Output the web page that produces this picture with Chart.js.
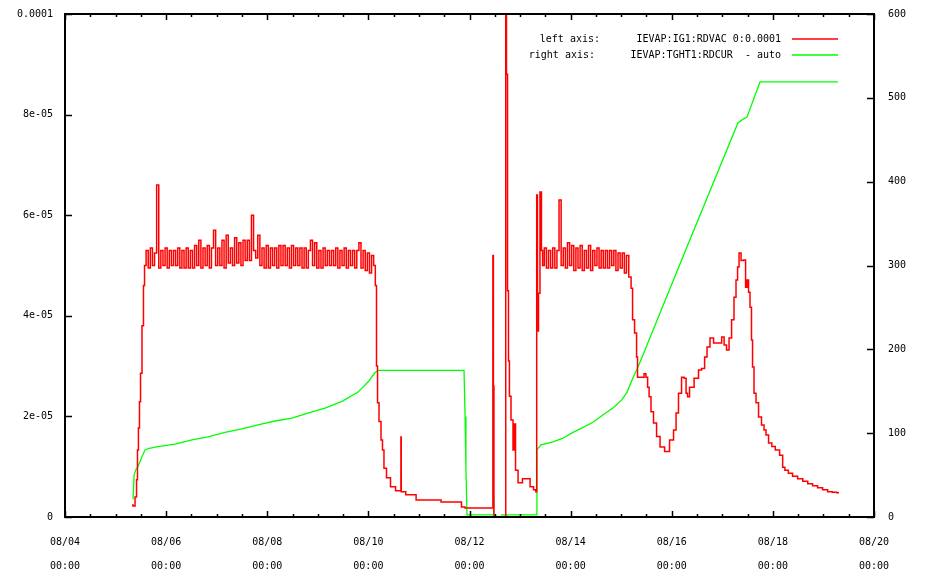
<!DOCTYPE html>
<html>
<head>
<meta charset="utf-8">
<script src="https://cdn.jsdelivr.net/npm/chart.js@4/dist/chart.umd.min.js"></script>
<style>
  html, body { margin: 0; padding: 0; background: #fff; }
  canvas { display: block; }
</style>
</head>
<body>
<canvas id="chart" width="927" height="587"></canvas>
<script>
// x = hours since 08/04 00:00
const dateLabels = ['08/04', '08/06', '08/08', '08/10', '08/12', '08/14', '08/16', '08/18', '08/20'];
const timeLabel = '00:00';
const leftTickLabels = ['0', '2e-05', '4e-05', '6e-05', '8e-05', '0.0001'];
const legendAxes = ['left axis:', 'right axis:'];
const seriesNames = ['IEVAP:IG1:RDVAC 0:0.0001', 'IEVAP:TGHT1:RDCUR  - auto'];

// IG1 vacuum, in units of 1e-05
const vacTimes = [
  31.8, 32.8, 33.7, 34.2, 34.6, 35.1, 35.6, 36.1, 37.0, 37.5, 38.0,
  39, 40, 41, 42, 43, 44, 45, 46, 47, 48,
  49, 50, 51, 52, 53, 54, 55, 56, 57, 58,
  59, 60, 61, 62, 63, 64, 65, 66, 67, 68,
  69, 70, 71, 72, 73, 74, 75, 76, 77, 78,
  79, 80, 81, 82, 83, 84, 85, 86, 87, 88,
  89, 90, 91, 92, 93, 94, 95, 96, 97, 98,
  99, 100, 101, 102, 103, 104, 105, 106, 107, 108,
  109, 110, 111, 112, 113, 114, 115, 116, 117, 118,
  119, 120, 121, 122, 123, 124, 125, 126, 127, 128,
  129, 130, 131, 132, 133, 134, 135, 136, 137, 138,
  139, 140, 141, 142, 143, 144, 145, 146, 147,
  147.6, 148.1, 148.6, 149.5, 150.5, 150.9, 151.9, 153.3, 155.7, 158.1,
  159.4, 159.5, 159.7, 163.8, 169.5, 187.5, 188.9, 190.8, 203.0, 203.2,
  203.5, 203.7, 209.1, 209.3, 209.8, 210.3, 210.7, 211.2, 212.2, 213.1,
  213.6, 214.1, 216.0, 218.3, 219.8, 221.7, 223.1, 223.8, 224.0, 224.5,
  225.0, 225.9, 226.4,
  227, 228, 229, 230, 231, 232, 233, 234, 235, 236,
  237, 238, 239, 240, 241, 242, 243, 244, 245, 246,
  247, 248, 249, 250, 251, 252, 253, 254, 255, 256,
  257, 258, 259, 260, 261, 262, 263, 264, 265, 266, 267,
  268.2, 269.2, 269.6, 271.1, 271.5, 272.0, 274.5, 275.2, 276.3, 276.8,
  277.7, 278.6, 280.1, 281.5, 283.4, 285.8, 288.1, 289.6, 290.5, 291.9,
  293.4, 294.3, 295.3, 295.7, 297.2, 300.0, 301.4, 302.9, 304.3, 305.2,
  307.1, 308.6, 311.0, 312.4, 313.3, 314.7, 315.7, 317.1, 318.0, 319.0,
  319.5, 320.4, 321.4, 322.8, 323.3, 324.2, 324.7, 325.6, 326.1, 326.6,
  327.5, 328.5, 329.9, 331.3, 332.3, 333.2, 334.7, 336.3, 338.0, 340.4,
  340.9, 342.5, 344.2, 346.5, 349.0, 351.4, 353.7, 356.0, 358.4, 360.8,
  363.2, 365.3, 367.4
];
const vacValues = [
  0.24, 0.22, 0.4, 0.74, 1.33, 1.77, 2.29, 2.86, 3.8, 4.6, 5.0,
  5.3, 4.95, 5.35, 5.0, 5.25, 6.6, 4.95, 5.3, 5.0, 5.35,
  4.95, 5.3, 5.0, 5.3, 5.0, 5.35, 4.95, 5.3, 4.95, 5.35,
  4.95, 5.3, 4.95, 5.4, 5.0, 5.5, 4.95, 5.35, 5.0, 5.4,
  4.95, 5.35, 5.7, 5.0, 5.35, 5.0, 5.5, 4.95, 5.6, 5.05,
  5.35, 5.0, 5.55, 5.05, 5.45, 5.0, 5.5, 5.1, 5.5, 5.1,
  6.0, 5.3, 5.15, 5.6, 5.0, 5.35, 4.95, 5.4, 4.95, 5.35,
  5.0, 5.35, 4.95, 5.4, 5.0, 5.4, 5.0, 5.35, 4.95, 5.4,
  5.0, 5.35, 5.0, 5.35, 4.95, 5.35, 4.95, 5.3, 5.5, 5.0,
  5.45, 4.95, 5.3, 4.95, 5.35, 5.0, 5.3, 5.0, 5.3, 5.0,
  5.35, 4.95, 5.3, 5.0, 5.35, 4.95, 5.3, 5.0, 5.3, 4.95,
  5.3, 5.45, 4.95, 5.3, 4.9, 5.25, 4.85, 5.2, 5.0,
  4.6, 3.0, 2.27, 1.9, 1.53, 1.33, 0.97, 0.78, 0.6, 0.52,
  0.52, 1.59, 0.5, 0.44, 0.34, 0.3, 0.2, 0.18, 0.18, 5.2,
  2.6, 0, 0, 12, 8.8, 4.5, 3.1, 2.4, 1.93, 1.33,
  1.85, 0.93, 0.68, 0.76, 0.76, 0.6, 0.54, 0.5, 6.4, 3.7,
  4.45, 6.46, 5.3,
  5.0, 5.35, 4.95, 5.3, 4.95, 5.35, 4.95, 5.3, 6.3, 5.0,
  5.35, 4.95, 5.45, 5.0, 5.4, 4.9, 5.35, 4.95, 5.4, 4.9,
  5.3, 4.95, 5.4, 4.9, 5.3, 5.0, 5.35, 4.95, 5.3, 4.95,
  5.3, 4.95, 5.3, 5.0, 5.3, 4.9, 5.25, 4.95, 5.25, 4.85, 5.2,
  4.77, 4.55, 3.92, 3.66, 3.18, 2.78, 2.78, 2.85, 2.78, 2.58,
  2.39, 2.09, 1.87, 1.6, 1.39, 1.3, 1.53, 1.73, 2.07, 2.46,
  2.78, 2.76, 2.46, 2.39, 2.58, 2.76, 2.92, 2.95, 3.18, 3.38,
  3.56, 3.46, 3.46, 3.58, 3.42, 3.32, 3.56, 3.92, 4.37, 4.71,
  4.97, 5.25, 5.1, 5.11, 4.57, 4.71, 4.47, 4.17, 3.52, 2.98,
  2.46, 2.27, 1.99, 1.83, 1.73, 1.63, 1.47, 1.4, 1.33, 1.23,
  0.99, 0.93, 0.87, 0.81, 0.76, 0.71, 0.66, 0.62, 0.58, 0.54,
  0.5, 0.49, 0.48
];

// TGHT1 current
const curTimes = [
  32.3, 32.8, 33.7, 34.6, 35.6, 36.5, 38.0, 40.0, 44.1, 52.2,
  60.3, 67.9, 75.9, 84.0, 91.6, 99.7, 107.7, 115.3, 123.4, 131.5,
  139.1, 143.8, 147.1, 148.6, 189.4, 189.9, 190.3, 190.8, 203.2, 203.4,
  203.6, 204.0, 206.9, 223.6, 224.0, 225.9, 231.6, 236.4, 241.1, 245.9,
  250.6, 255.4, 260.1, 264.4, 266.8, 269.6, 272.0, 295.2, 319.4, 321.5,
  323.7, 329.9, 366.9
];
const curValues = [
  21, 50, 57, 60, 66, 72, 80, 82, 84, 87,
  92, 95.5, 101, 105, 110, 114.5, 118, 124, 130, 138,
  149, 161, 172, 175, 175, 120, 60, 2.5, 2.5, 26,
  2.5, null, 2.5, 2.5, 80, 86, 89.5, 94, 101, 107,
  113, 122, 130, 140, 149, 166, 179, 322, 470, 474,
  477, 519, 519
];

const FONT = { family: '"DejaVu Sans Mono", monospace', size: 10 };

const gnuplotFrame = {
  id: 'gnuplotFrame',
  afterDraw(chart) {
    const { ctx, chartArea: a, scales } = chart;
    ctx.save();
    ctx.strokeStyle = '#000';
    ctx.lineWidth = 1.5;
    ctx.beginPath();
    scales.x.ticks.forEach(t => {
      const px = Math.round(scales.x.getPixelForValue(t.value)) + 0.5;
      const len = t.value % 48 === 0 ? 6 : 3;
      ctx.moveTo(px, a.bottom); ctx.lineTo(px, a.bottom - len);
      ctx.moveTo(px, a.top); ctx.lineTo(px, a.top + len);
    });
    scales.y.ticks.forEach(t => {
      const py = Math.round(scales.y.getPixelForValue(t.value)) + 0.5;
      ctx.moveTo(a.left, py); ctx.lineTo(a.left + 7, py);
    });
    scales.y2.ticks.forEach(t => {
      const py = Math.round(scales.y2.getPixelForValue(t.value)) + 0.5;
      ctx.moveTo(a.right, py); ctx.lineTo(a.right - 7, py);
    });
    ctx.stroke();
    ctx.lineWidth = 2;
    ctx.strokeRect(a.left, a.top, a.right - a.left, a.bottom - a.top);

    // key, top right
    ctx.font = `${FONT.size}px ${FONT.family}`;
    ctx.fillStyle = '#000';
    ctx.textAlign = 'right';
    ctx.textBaseline = 'middle';
    chart.data.datasets.forEach((ds, i) => {
      const y = a.top + 25 + i * 16;
      ctx.fillText(legendAxes[i], a.right - 274 - i * 5, y);
      ctx.fillText(ds.label, a.right - 93, y);
      ctx.strokeStyle = ds.borderColor;
      ctx.lineWidth = 1.3;
      ctx.beginPath();
      ctx.moveTo(a.right - 82, y);
      ctx.lineTo(a.right - 36, y);
      ctx.stroke();
    });
    ctx.restore();
  }
};

const noVerticalPad = s => { s.paddingTop = 0; s.paddingBottom = 0; };

new Chart(document.getElementById('chart'), {
  type: 'line',
  data: {
    datasets: [{
      label: seriesNames[0],
      data: vacTimes.map((t, i) => ({ x: t, y: vacValues[i] })),
      borderColor: '#ff0000',
      borderWidth: 1.5,
      pointRadius: 0,
      stepped: 'middle',
      yAxisID: 'y'
    }, {
      label: seriesNames[1],
      data: curTimes.map((t, i) => ({ x: t, y: curValues[i] })),
      borderColor: '#00ff00',
      borderWidth: 1.3,
      pointRadius: 0,
      spanGaps: false,
      yAxisID: 'y2'
    }]
  },
  options: {
    responsive: false,
    animation: false,
    layout: { padding: { top: 14, left: 0, right: 0, bottom: 0 } },
    plugins: {
      legend: { display: false },
      tooltip: { enabled: false }
    },
    scales: {
      x: {
        type: 'linear',
        min: 0,
        max: 384,
        grid: { display: false, drawTicks: false },
        border: { display: false },
        afterFit: s => { s.height = 70; },
        ticks: {
          stepSize: 12,
          autoSkip: false,
          maxRotation: 0,
          padding: 13,
          color: '#000',
          font: { ...FONT, lineHeight: 2.4 },
          callback: v => v % 48 === 0 ? [dateLabels[v / 48], timeLabel] : ''
        }
      },
      y: {
        position: 'left',
        min: 0,
        max: 10,
        grid: { display: false, drawTicks: false },
        border: { display: false },
        afterFit: s => { s.width = 65; noVerticalPad(s); },
        ticks: {
          stepSize: 2,
          padding: 12,
          color: '#000',
          font: FONT,
          callback: v => leftTickLabels[v / 2]
        }
      },
      y2: {
        position: 'right',
        min: 0,
        max: 600,
        grid: { display: false, drawTicks: false },
        border: { display: false },
        afterFit: s => { s.width = 53; noVerticalPad(s); },
        ticks: {
          stepSize: 100,
          padding: 14,
          color: '#000',
          font: FONT
        }
      }
    }
  },
  plugins: [gnuplotFrame]
});
</script>
</body>
</html>
